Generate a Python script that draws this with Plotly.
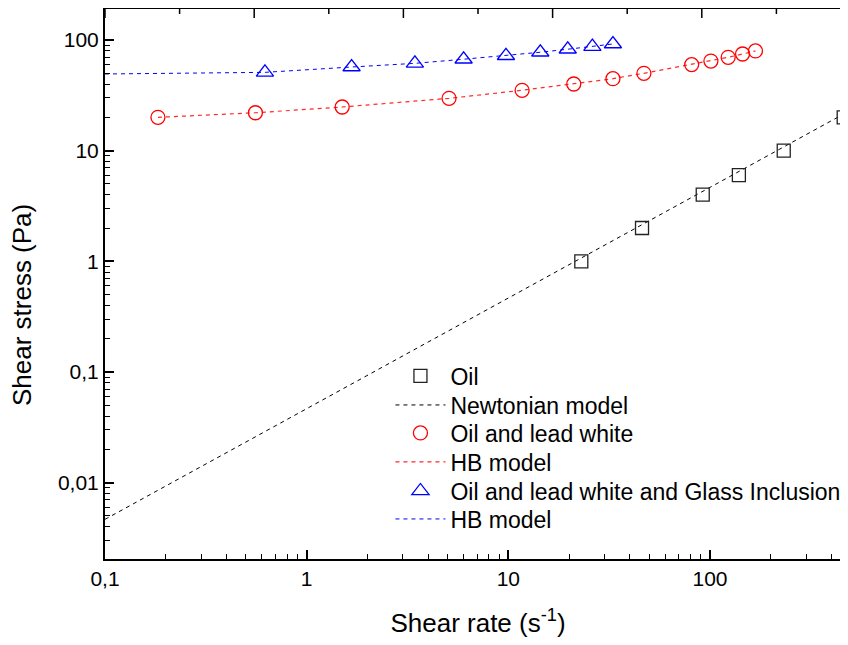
import numpy as np
import plotly.graph_objects as go

# ---- data ----
oil_x = [23, 46, 92, 139, 232, 460]
oil_y = [1.0, 2.0, 4.0, 6.0, 10.0, 20.0]

newt_x = [0.1, 500]
newt_y = [0.00466, 23.3]

lead_x = [0.183, 0.557, 1.50, 5.08, 11.7, 21.1, 33.0, 47.0, 81.1, 101, 123, 145, 168]
lead_y = [20.0, 22.0, 24.8, 29.7, 35.1, 40.0, 44.7, 50.0, 59.9, 64.5, 69.7, 74.7, 79.6]

hb_lead_x = [0.183, 0.557, 1.50, 5.08, 11.7, 21.1, 33.0, 47.0, 81.1, 101, 123, 145, 168]
hb_lead_y = [20.0, 22.0, 24.8, 29.7, 35.1, 40.0, 44.7, 50.0, 59.9, 64.5, 69.7, 74.7, 79.6]

glass_x = [0.621, 1.67, 3.44, 6.0, 9.73, 14.4, 19.7, 26.1, 33.0]
glass_y = [51, 57, 61.5, 67, 72, 77.5, 82.5, 87, 92]

hb_glass_x = [0.1, 0.621, 1.67, 3.44, 6.0, 9.73, 14.4, 19.7, 26.1, 33.0]
hb_glass_y = [49.3, 51, 57, 61.5, 67, 72, 77.5, 82.5, 87, 92]

x_tickvals = [0.1, 1, 10, 100]
x_ticktext = ["0,1", "1", "10", "100"]
y_tickvals = [0.01, 0.1, 1, 10, 100]
y_ticktext = ["0,01", "0,1", "1", "10", "100"]

# top / right frame carries plain evenly spaced ticks (0..10 of the frame) without labels
frame_major = [0, 2, 4, 6, 8, 10]
frame_minor = [1, 3, 5, 7, 9]

names = ["Oil", "Newtonian model", "Oil and lead white", "HB model",
         "Oil and lead white and Glass Inclusion", "HB model"]
x_title = "Shear rate (s<sup>-1</sup>)"
y_title = "Shear stress (Pa)"

FONT = "Arial, Liberation Sans, sans-serif"
DASH = "4px,4px"
W, H = 848, 645
ML, MR, MT, MB = 97, 4.6, 1, 94
PW, PH = W - ML - MR, H - MT - MB

legend_ids = ["legend", "legend2", "legend3", "legend4", "legend5", "legend6"]

fig = go.Figure()
fig.add_trace(go.Scatter(x=newt_x, y=newt_y, mode="lines", name=names[1], legend=legend_ids[1],
                         line=dict(color="black", width=1, dash=DASH)))
fig.add_trace(go.Scatter(x=hb_lead_x, y=hb_lead_y, mode="lines", name=names[3], legend=legend_ids[3],
                         line=dict(color="#ff2a2a", width=1.2, dash=DASH)))
fig.add_trace(go.Scatter(x=hb_glass_x, y=hb_glass_y, mode="lines", name=names[5], legend=legend_ids[5],
                         line=dict(color="#0000ff", width=1, dash=DASH)))
fig.add_trace(go.Scatter(x=oil_x, y=oil_y, mode="markers", name=names[0], legend=legend_ids[0],
                         marker=dict(symbol="square-open", size=13, color="#222222",
                                     line=dict(width=1.3, color="#222222"))))
fig.add_trace(go.Scatter(x=lead_x, y=lead_y, mode="markers", name=names[2], legend=legend_ids[2],
                         marker=dict(symbol="circle-open", size=14, color="#ff0000",
                                     line=dict(width=1.3, color="#ff0000"))))
fig.add_trace(go.Scatter(x=glass_x, y=glass_y, mode="markers", name=names[4], legend=legend_ids[4],
                         marker=dict(symbol="triangle-up-open", size=15, color="#0000ff",
                                     line=dict(width=1.3, color="#0000ff"))))


def minor_log(lo, hi):
    vals = []
    for d in range(lo, hi + 1):
        for m in range(2, 10):
            vals.append(m * 10.0 ** d)
    return vals


# page has an 8px body offset; margins compensate so the plot lands where the reference has it
row_centers = [368, 397, 425, 454, 483, 511]   # figure px (from top)
legend_left = 382.6
legends = {}
for lid, yc in zip(legend_ids, row_centers):
    legends[lid] = dict(x=(legend_left - ML) / PW, y=(H - MB - yc) / PH,
                        xref="paper", yref="paper",
                        xanchor="left", yanchor="middle", bgcolor="rgba(0,0,0,0)",
                        font=dict(size=23, family=FONT, color="black"), itemwidth=50)

# frame ticks on the top and right edges (inward), in plot-fraction coordinates
shapes = []
for vals, length in ((frame_major, 9), (frame_minor, 5)):
    for v in vals:
        f = v / 10
        shapes.append(dict(type="line", xref="paper", yref="paper",
                           x0=f, x1=f, y0=1, y1=1 - length / PH, layer="above",
                           line=dict(color="black", width=1.5)))
        shapes.append(dict(type="line", xref="paper", yref="paper",
                           x0=1, x1=1 - length / PW, y0=f, y1=f, layer="above",
                           line=dict(color="black", width=1.5)))

fig.update_layout(
    width=W, height=H,
    margin=dict(l=ML, r=MR, t=MT, b=MB, autoexpand=False),
    paper_bgcolor="white", plot_bgcolor="white",
    font=dict(family=FONT, size=21, color="black"),
    showlegend=True,
    xaxis=dict(type="log", range=[-1, np.log10(500)],
               tickvals=x_tickvals, ticktext=x_ticktext,
               ticks="inside", ticklen=9, tickwidth=1.5, tickcolor="black",
               showline=True, linewidth=2, linecolor="black",
               showgrid=False, zeroline=False, mirror=True,
               minor=dict(tickvals=minor_log(-1, 2), ticks="inside", ticklen=5,
                          tickwidth=1.3, tickcolor="black", showgrid=False),
               title=dict(text=x_title, font=dict(size=26, family=FONT), standoff=25),
               tickfont=dict(size=21)),
    yaxis=dict(type="log", range=[-2.69, 2.28],
               tickvals=y_tickvals, ticktext=y_ticktext,
               ticks="inside", ticklen=9, tickwidth=1.5, tickcolor="black",
               showline=True, linewidth=2, linecolor="black",
               showgrid=False, zeroline=False, mirror=True,
               minor=dict(tickvals=minor_log(-3, 2), ticks="inside", ticklen=5,
                          tickwidth=1.3, tickcolor="black", showgrid=False),
               tickfont=dict(size=21)),
    shapes=shapes,
    annotations=[dict(text=y_title, textangle=-90, xref="paper", yref="paper",
                      x=(14 - ML) / PW, y=(H - MB - 297) / PH,
                      xanchor="center", yanchor="middle", showarrow=False,
                      font=dict(size=26, family=FONT, color="black"))],
    **legends,
)

fig.write_html("out.html")
